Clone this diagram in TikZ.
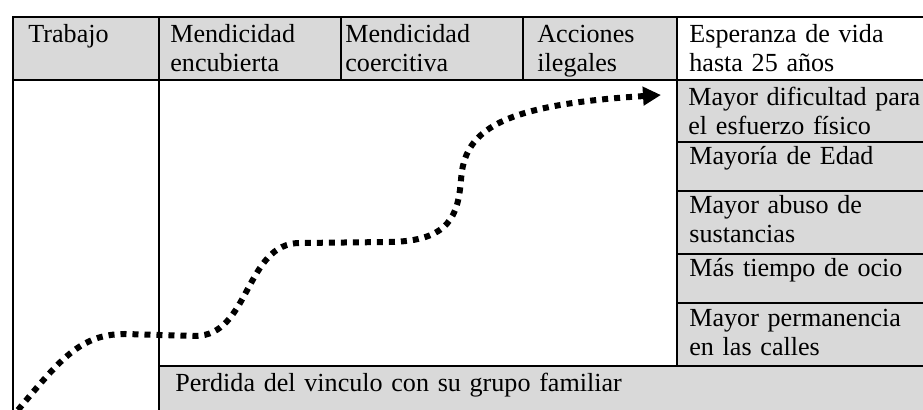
\documentclass[tikz,border=0pt]{standalone}
\usepackage{fontspec}
\setmainfont{Liberation Serif}
\usetikzlibrary{arrows.meta}
\definecolor{cellgray}{gray}{0.85}

\begin{document}
\begin{tikzpicture}[x=0.5pt,y=-0.5pt,
    rule/.style={line width=1pt},
    grayfill/.style={fill=cellgray},
    celltext/.style={anchor=base west,inner sep=0pt,text width=130pt,align=left,
      font=\fontsize{13.05}{14.4}\selectfont},
    trend/.style={line width=3pt,dash pattern=on 3pt off 3pt,
      -{Triangle[length=9pt,width=9pt]}}]
    \useasboundingbox (0,0) rectangle (923,410);
    % shaded cells
    \fill[grayfill] (13,17) rectangle (677,80);
    \fill[grayfill] (677,80) rectangle (923,366);
    \fill[grayfill] (159,366) rectangle (923,410);
    % header row
    \node (trabajo) at (28,43) [celltext] {Trabajo};
    \node (encubierta) at (170,43) [celltext] {Mendicidad\\encubierta};
    \node (coercitiva) at (345,43) [celltext] {Mendicidad\\coercitiva};
    \node (ilegales) at (537,43) [celltext] {Acciones\\ilegales};
    \node (esperanza) at (689,43) [celltext] {Esperanza de vida\\hasta 25 años};
    % right column
    \node (dificultad) at (688,106) [celltext] {Mayor dificultad para\\el esfuerzo físico};
    \node (edad) at (689,165) [celltext] {Mayoría de Edad};
    \node (abuso) at (689,214) [celltext] {Mayor abuso de\\sustancias};
    \node (ocio) at (689,277) [celltext] {Más tiempo de ocio};
    \node (calles) at (689,327) [celltext] {Mayor permanencia\\en las calles};
    % bottom row
    \node (vinculo) at (175,392) [celltext,text width=300pt] {Perdida del vinculo con su grupo familiar};
    % rules
    \draw[rule] (13,410) -- (13,17) -- (923,17);
    \draw[rule] (13,80) -- (923,80);
    \draw[rule] (159,17) -- (159,410);
    \draw[rule] (341,17) -- (341,80);
    \draw[rule] (523,17) -- (523,80);
    \draw[rule] (677,17) -- (677,366);
    \draw[rule] (677,142) -- (923,142);
    \draw[rule] (677,191) -- (923,191);
    \draw[rule] (677,254) -- (923,254);
    \draw[rule] (677,303) -- (923,303);
    \draw[rule] (159,366) -- (923,366);
    % rising trend
    \coordinate (start) at (18,410);
    \coordinate (goal) at (661,95);
    \draw[trend] (start) .. controls (60,360) and (80,334) .. (125,334)
      -- (195,336) .. controls (250,336) and (245,243) .. (300,243)
      -- (390,242) .. controls (450,241) and (458,215) .. (461,180)
      .. controls (464,130) and (500,105) .. (goal);
\end{tikzpicture}
\end{document}
